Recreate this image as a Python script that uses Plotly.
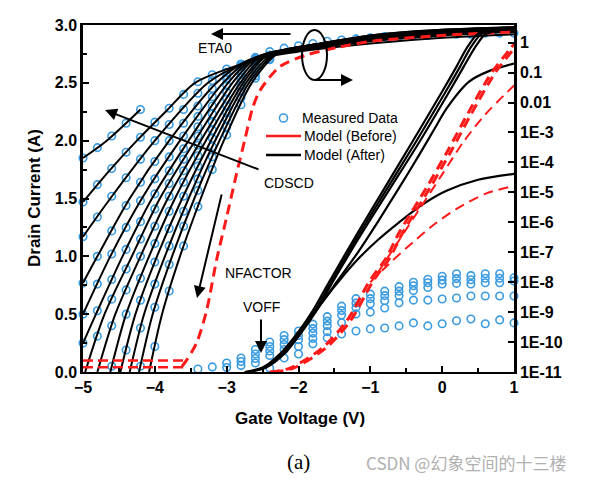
import plotly.graph_objects as go

# ---------------- DATA ----------------
# Linear scale (left axis): measured data markers on a 0.2 V grid
grid_V = [-5.0, -4.8, -4.6, -4.4, -4.2, -4.0, -3.8, -3.6, -3.4, -3.2, -3.0, -2.8, -2.6, -2.4]
meas_lin = [
    [1.85, 1.94, 2.04, 2.15, 2.27, None, None, None, None, None, None, None, None, None],
    [1.47, 1.62, 1.76, 1.90, 2.03, 2.16, 2.28, 2.40, 2.51, 2.57, 2.62, 2.66, 2.70, None],
    [1.17, 1.34, 1.52, 1.68, 1.84, 2.00, 2.14, 2.27, 2.41, 2.52, 2.59, 2.66, 2.71, None],
    [0.77, 1.00, 1.22, 1.44, 1.64, 1.82, 2.00, 2.15, 2.30, 2.45, 2.56, 2.66, 2.72, None],
    [0.50, 0.76, 1.02, 1.25, 1.48, 1.67, 1.86, 2.04, 2.21, 2.38, 2.53, 2.64, 2.71, None],
    [0.25, 0.53, 0.80, 1.06, 1.30, 1.54, 1.74, 1.93, 2.12, 2.30, 2.48, 2.61, 2.71, None],
    [None, 0.31, 0.63, 0.89, 1.15, 1.41, 1.63, 1.84, 2.04, 2.23, 2.42, 2.58, 2.71, None],
    [None, None, 0.40, 0.71, 1.00, 1.26, 1.52, 1.74, 1.96, 2.16, 2.36, 2.54, 2.69, None],
    [None, None, 0.05, 0.50, 0.81, 1.11, 1.39, 1.64, 1.87, 2.09, 2.30, 2.51, 2.66, None],
    [None, None, None, 0.19, 0.62, 0.95, 1.24, 1.52, 1.78, 2.02, 2.24, 2.47, 2.63, 2.74],
    [None, None, None, None, 0.38, 0.76, 1.09, 1.39, 1.67, 1.95, 2.19, 2.42, 2.59, 2.73],
    [None, None, None, None, 0.05, 0.56, 0.93, 1.26, 1.57, 1.86, 2.12, 2.37, 2.56, 2.70],
    [None, None, None, None, None, 0.22, 0.70, 1.09, 1.43, 1.75, 2.05, 2.31, 2.54, 2.71],
]
top_V = [-2.4, -2.2, -2.0, -1.8, -1.6, -1.4, -1.2, -1.0, -0.8, -0.6, -0.4, -0.2, 0.0, 0.2, 0.4, 0.6, 0.8, 1.0]
top_I = [2.77, 2.80, 2.82, 2.84, 2.86, 2.87, 2.88, 2.89, 2.90, 2.90, 2.91, 2.91, 2.92, 2.92, 2.92, 2.93, 2.93, 2.93]

# Model (After), linear scale
after_V = [
    [-5.0, -4.67, -4.2],
    [-5.0, -4.62, -4.25, -3.85, -3.44, -2.9, -2.4, -2.0, -1.0, 0.0, 1.0],
    [-5.0, -4.62, -4.0, -3.26, -2.8, -2.4, -2.0, -1.0, 0.0, 1.0],
    [-5.0, -4.8, -4.35, -3.8, -3.14, -2.75, -2.4, -2.0, -1.0, 0.0, 1.0],
    [-5.0, -4.62, -4.18, -3.65, -3.05, -2.7, -2.4, -2.0, -1.0, 0.0, 1.0],
    [-5.0, -4.82, -4.45, -4.04, -3.53, -2.98, -2.65, -2.4, -2.0, -1.0, 0.0, 1.0],
    [-4.97, -4.7, -4.32, -3.93, -3.44, -2.92, -2.6, -2.3, -2.0, -1.0, 0.0, 1.0],
    [-4.8, -4.55, -4.2, -3.82, -3.36, -2.86, -2.55, -2.3, -2.0, -1.0, 0.0, 1.0],
    [-4.62, -4.4, -4.08, -3.72, -3.29, -2.81, -2.5, -2.2, -1.0, 0.0, 1.0],
    [-4.48, -4.27, -3.97, -3.62, -3.22, -2.77, -2.45, -2.2, -1.0, 0.0, 1.0],
    [-4.35, -4.15, -3.86, -3.53, -3.16, -2.73, -2.4, -2.1, -1.0, 0.0, 1.0],
    [-4.22, -4.03, -3.76, -3.45, -3.1, -2.69, -2.35, -2.1, -1.0, 0.0, 1.0],
    [-4.08, -3.9, -3.65, -3.36, -3.04, -2.65, -2.3, -2.0, -1.0, 0.0, 1.0],
]
after_I = [
    [1.85, 2.0, 2.27],
    [1.47, 1.75, 2.0, 2.25, 2.5, 2.64, 2.73, 2.77, 2.84, 2.89, 2.92],
    [1.17, 1.5, 2.0, 2.5, 2.66, 2.74, 2.78, 2.86, 2.91, 2.94],
    [0.77, 1.0, 1.5, 2.0, 2.5, 2.68, 2.75, 2.79, 2.87, 2.92, 2.95],
    [0.5, 1.0, 1.5, 2.0, 2.5, 2.69, 2.76, 2.8, 2.88, 2.93, 2.96],
    [0.25, 0.5, 1.0, 1.5, 2.0, 2.5, 2.7, 2.76, 2.81, 2.89, 2.94, 2.97],
    [0.0, 0.5, 1.0, 1.5, 2.0, 2.5, 2.71, 2.77, 2.81, 2.89, 2.94, 2.97],
    [0.0, 0.5, 1.0, 1.5, 2.0, 2.5, 2.72, 2.77, 2.81, 2.89, 2.94, 2.97],
    [0.0, 0.5, 1.0, 1.5, 2.0, 2.5, 2.72, 2.78, 2.9, 2.95, 2.97],
    [0.0, 0.5, 1.0, 1.5, 2.0, 2.5, 2.73, 2.78, 2.9, 2.95, 2.98],
    [0.0, 0.5, 1.0, 1.5, 2.0, 2.5, 2.73, 2.79, 2.9, 2.95, 2.98],
    [0.0, 0.5, 1.0, 1.5, 2.0, 2.5, 2.74, 2.79, 2.91, 2.96, 2.98],
    [0.0, 0.5, 1.0, 1.5, 2.0, 2.5, 2.75, 2.8, 2.91, 2.96, 2.98],
]

# Model (Before), linear scale
before_V = [-3.62, -3.56, -3.42, -3.28, -3.14, -3.0, -2.86, -2.75, -2.64, -2.54, -2.26, -1.89, -1.43, -0.97, 0.0, 1.0]
before_I = [0.05, 0.1, 0.25, 0.53, 0.97, 1.34, 1.72, 2.0, 2.28, 2.43, 2.64, 2.74, 2.81, 2.86, 2.91, 2.94]
before_flat_V = [-5.0, -3.6]
before_flat_I1 = [0.1, 0.1]
before_flat_I2 = [0.04, 0.04]

# Log scale (right axis): exponents of 10
log_cols_V = [-3.4, -3.2, -3.0, -2.8, -2.6, -2.4, -2.2, -2.0, -1.8, -1.6, -1.4, -1.2,
              -1.0, -0.8, -0.6, -0.4, -0.2, 0.0, 0.2, 0.4, 0.6, 0.8, 1.0]
meas_log_exp = [
    [-10.9, -10.83, -10.7, -10.53, -10.25, -10.0, -9.78, -9.63, -9.4, -9.15, -8.8, -8.55,
     -8.4, -8.3, -8.15, -8.0, -7.9, -7.8, -7.72, -7.78, -7.72, -7.72, -7.85],
    [None, None, -10.85, -10.65, -10.4, -10.15, -9.92, -9.78, -9.55, -9.3, -8.95, -8.7,
     -8.55, -8.45, -8.3, -8.12, -8.02, -7.93, -7.88, -7.92, -7.87, -7.87, -7.96],
    [None, None, None, -10.78, -10.55, -10.3, -10.08, -9.92, -9.7, -9.45, -9.1, -8.85,
     -8.72, -8.62, -8.45, -8.28, -8.18, -8.06, -8.04, -8.06, -8.02, -8.02, None],
    [None, None, None, None, -10.7, -10.45, -10.25, -10.15, -9.88, -9.65, -9.35, -9.06,
     -9.0, -8.86, -8.69, -8.6, -8.6, -8.56, -8.53, -8.46, -8.46, -8.46, -8.46],
    [None, None, None, None, None, -10.87, -10.53, -10.4, -10.06, -9.86, -9.73, -9.63,
     -9.56, -9.53, -9.46, -9.36, -9.46, -9.39, -9.29, -9.23, -9.39, -9.26, -9.36],
]

after_log_V = [
    [-2.75, -2.5, -2.26, -2.0, -1.8, -1.6, -1.2, -0.8, -0.4, 0.0, 0.2, 0.35, 0.5, 0.7, 1.0],
    [-2.72, -2.47, -2.23, -1.97, -1.77, -1.57, -1.17, -0.76, -0.35, 0.05, 0.25, 0.4, 0.55, 0.75, 1.0],
    [-2.7, -2.45, -2.2, -1.95, -1.75, -1.55, -1.14, -0.72, -0.3, 0.1, 0.3, 0.46, 0.6, 0.8, 1.0],
    [-1.8, -1.5, -1.2, -0.9, -0.6, -0.32, -0.1, 0.06, 0.375, 0.65, 1.0],
    [-1.8, -1.5, -1.2, -0.9, -0.6, -0.3, 0.06, 0.5, 1.0],
]
after_log_exp = [
    [-11.0, -10.85, -10.4, -9.65, -8.95, -8.1, -6.45, -4.85, -3.25, -1.63, -0.8, -0.15, 0.3, 0.44, 0.47],
    [-11.0, -10.85, -10.4, -9.65, -8.95, -8.1, -6.45, -4.85, -3.25, -1.63, -0.8, -0.15, 0.3, 0.44, 0.46],
    [-11.0, -10.85, -10.4, -9.65, -8.95, -8.1, -6.45, -4.85, -3.25, -1.63, -0.8, -0.15, 0.28, 0.42, 0.45],
    [-9.1, -8.1, -7.1, -6.0, -4.85, -3.75, -2.85, -2.2, -1.3, -0.95, -0.7],
    [-9.1, -8.15, -7.3, -6.6, -6.0, -5.45, -4.95, -4.58, -4.38],
]
before_log_V = [
    [-2.4, -2.12, -1.67, -1.33, -1.01, -0.78, -0.6, -0.22, 0.08, 0.35, 0.69, 0.93, 1.0],
    [-2.35, -2.07, -1.62, -1.28, -0.96, -0.73, -0.55, -0.17, 0.13, 0.4, 0.74, 0.98, 1.0],
    [-0.9, -0.6, -0.3, 0.0, 0.3, 0.6, 1.0],
    [-1.0, -0.7, -0.4, -0.1, 0.2, 0.6, 1.0],
]
before_log_exp = [
    [-11.0, -10.87, -10.2, -9.3, -7.96, -7.19, -6.35, -4.85, -3.6, -2.4, -1.0, -0.26, -0.05],
    [-11.0, -10.87, -10.2, -9.3, -7.96, -7.19, -6.35, -4.85, -3.6, -2.4, -1.0, -0.26, -0.2],
    [-7.7, -6.6, -5.5, -4.4, -3.3, -2.4, -1.43],
    [-8.0, -7.3, -6.65, -6.05, -5.55, -5.05, -4.78],
]

x_ticks = [-5, -4, -3, -2, -1, 0, 1]
y_ticks = [0.0, 0.5, 1.0, 1.5, 2.0, 2.5, 3.0]
y2_tick_exp = [0, -1, -2, -3, -4, -5, -6, -7, -8, -9, -10, -11]
y2_tick_text = ["1", "0.1", "0.01", "1E-3", "1E-4", "1E-5", "1E-6", "1E-7", "1E-8", "1E-9", "1E-10", "1E-11"]

# ---------------- STYLE ----------------
BLUE = "#3a9be0"
RED = "#ff1a1a"
FONT = "Liberation Sans"
OFF = 8            # page body margin: screenshot px -> figure px
W, H = 597 - OFF, 480 - OFF

fig = go.Figure()


def exp10(lst):
    return [None if v is None else 10 ** v for v in lst]


mk = dict(symbol="circle-open", size=7.5, color=BLUE, line=dict(width=1.6, color=BLUE))
# measured markers (linear)
for row in meas_lin:
    fig.add_trace(go.Scatter(x=grid_V, y=row, mode="markers", cliponaxis=False, marker=mk))
fig.add_trace(go.Scatter(x=top_V, y=top_I, mode="markers", cliponaxis=False, marker=mk))
# measured markers (log)
for row in meas_log_exp:
    fig.add_trace(go.Scatter(x=log_cols_V, y=exp10(row), yaxis="y2", mode="markers",
                             cliponaxis=False, marker=mk))

# model after lines
for vv, ii in zip(after_V, after_I):
    fig.add_trace(go.Scatter(x=vv, y=ii, mode="lines",
                             line=dict(color="black", width=2, shape="spline", smoothing=0.8)))
for vv, ee in zip(after_log_V, after_log_exp):
    fig.add_trace(go.Scatter(x=vv, y=exp10(ee), yaxis="y2", mode="lines",
                             line=dict(color="black", width=2.2, shape="spline", smoothing=0.8)))

# model before lines
fig.add_trace(go.Scatter(x=before_V, y=before_I, mode="lines",
                         line=dict(color=RED, width=3, dash="10px,6px", shape="spline", smoothing=0.8)))
fig.add_trace(go.Scatter(x=before_flat_V, y=before_flat_I1, mode="lines",
                         line=dict(color=RED, width=2.5, dash="10px,5px")))
fig.add_trace(go.Scatter(x=before_flat_V, y=before_flat_I2, mode="lines",
                         line=dict(color=RED, width=2.5, dash="10px,5px")))
for k, (vv, ee) in enumerate(zip(before_log_V, before_log_exp)):
    fig.add_trace(go.Scatter(x=vv, y=exp10(ee), yaxis="y2", mode="lines",
                             line=dict(color=RED, width=3 if k < 2 else 2, dash="10px,6px",
                                       shape="spline", smoothing=0.8)))

# ---------------- LAYOUT ----------------
# plot area in screenshot pixels
L, R, T, B = 83, 514, 25, 372


def px(x):
    return (x - L) / (R - L)


def py(y):
    return (B - y) / (B - T)


tickfont = dict(family=FONT, size=16, color="black", weight="bold")
fig.update_layout(
    width=W, height=H,
    margin=dict(l=L - OFF, r=W - (R - OFF), t=T - OFF, b=H - (B - OFF), autoexpand=False),
    paper_bgcolor="white", plot_bgcolor="white",
    showlegend=False,
    xaxis=dict(range=[-5, 1], tickvals=x_ticks, ticks="inside", ticklen=6, tickwidth=1.5,
               tickcolor="black", showline=True, linewidth=2, linecolor="black", mirror=True,
               showgrid=False, zeroline=False, tickfont=tickfont,
               minor=dict(dtick=0.5, ticks="inside", ticklen=4, tickwidth=1.5, tickcolor="black", showgrid=False)),
    yaxis=dict(range=[0, 3], tickvals=y_ticks, tickformat=".1f", ticks="inside", ticklen=6, tickwidth=1.5,
               tickcolor="black", showline=True, linewidth=2.5, linecolor="black",
               showgrid=False, zeroline=False, tickfont=tickfont,
               minor=dict(dtick=0.25, ticks="inside", ticklen=4, tickwidth=1.5, tickcolor="black", showgrid=False)),
    yaxis2=dict(type="log", range=[-11, 0.59], overlaying="y", side="right",
                tickvals=[10 ** e for e in y2_tick_exp], ticktext=y2_tick_text,
                ticks="inside", ticklen=6, tickwidth=1.5, tickcolor="black",
                showline=True, linewidth=2.5, linecolor="black", showgrid=False, zeroline=False,
                tickfont=tickfont),
)

ann = []


def text(x, y, s, size=14, xanchor="center", **kw):
    ann.append(dict(xref="paper", yref="paper", x=px(x), y=py(y), text=s, showarrow=False,
                    xanchor=xanchor, yanchor="middle",
                    font=dict(family=kw.pop("family", FONT), size=size, color=kw.pop("color", "black")), **kw))


def arrow(hx, hy, tx, ty):
    ann.append(dict(xref="paper", yref="paper", x=px(hx), y=py(hy), ax=tx - hx, ay=ty - hy,
                    text="", showarrow=True, arrowhead=2, arrowsize=1.2, arrowwidth=2, arrowcolor="black"))


text(215, 48, "ETA0")
arrow(211, 34, 292, 34)
arrow(353, 80, 313, 80)
text(289, 183, "CDSCD")
arrow(105, 110, 260, 170)
text(258, 273, "NFACTOR")
arrow(197, 298, 222, 193)
text(261, 307, "VOFF")
arrow(261, 353, 261, 318)

text(300, 118, "Measured Data", xanchor="left")
text(302, 136, "Model (Before)", xanchor="left")
text(302, 155, "Model (After)", xanchor="left")

text(300, 418, "<b>Gate Voltage (V)</b>", size=17)
text(34, 198, "<b>Drain Current (A)</b>", size=17, textangle=-90)
text(298, 462, "(a)", size=21, family="Liberation Serif")
text(466, 462, "CSDN @幻象空间的十三楼", size=17, family="Noto Sans CJK SC", color="#b0b0b0")

fig.update_layout(annotations=ann)

shapes = [
    dict(type="circle", xref="paper", yref="paper", x0=px(302), x1=px(327), y0=py(80), y1=py(30),
         line=dict(color="black", width=2)),
    dict(type="circle", xref="paper", yref="paper", x0=px(279.5), x1=px(287.5), y0=py(122), y1=py(114),
         line=dict(color=BLUE, width=1.6)),
    dict(type="line", xref="paper", yref="paper", x0=px(266), x1=px(301), y0=py(136), y1=py(136),
         line=dict(color=RED, width=2.5)),
    dict(type="line", xref="paper", yref="paper", x0=px(266), x1=px(301), y0=py(155), y1=py(155),
         line=dict(color="black", width=2.5)),
]
fig.update_layout(shapes=shapes)

fig.write_html("out.html")
